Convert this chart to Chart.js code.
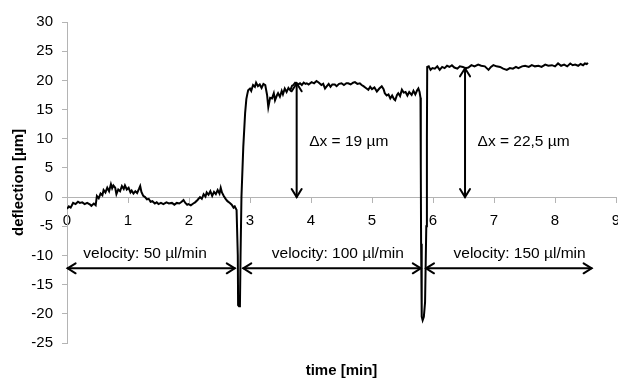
<!DOCTYPE html>
<html><head><meta charset="utf-8">
<script src="https://cdn.jsdelivr.net/npm/chart.js@4"></script>
<style>html,body{margin:0;padding:0;background:#fff}</style>
</head><body>
<canvas id="c" width="618" height="380"></canvas>
<script>
// ---- data ----
const timeMin = [
0.00,0.03,0.06,0.10,0.14,0.18,0.21,0.25,0.29,0.33,0.38,0.40,0.44,0.47,0.49,0.52,0.55,0.58,0.60,0.63,
0.66,0.69,0.72,0.74,0.76,0.79,0.81,0.84,0.87,0.90,0.93,0.95,0.98,1.01,1.04,1.06,1.09,1.12,1.15,1.18,
1.20,1.22,1.25,1.28,1.31,1.34,1.37,1.40,1.44,1.47,1.50,1.54,1.58,1.63,1.67,1.72,1.76,1.80,1.84,1.88,
1.91,1.94,1.97,1.99,2.03,2.07,2.10,2.14,2.18,2.21,2.24,2.27,2.29,2.32,2.35,2.38,2.41,2.44,2.47,2.50,
2.52,2.54,2.57,2.60,2.63,2.67,2.70,2.73,2.75,2.78,2.80,2.805,2.82,2.835,2.845,2.86,2.89,2.92,2.94,2.955,
2.97,3.00,3.02,3.05,3.08,3.10,3.13,3.16,3.19,3.22,3.25,3.28,3.30,3.33,3.36,3.39,3.41,3.44,3.46,3.49,
3.52,3.54,3.57,3.60,3.63,3.66,3.69,3.71,3.74,3.76,3.79,3.82,3.85,3.88,3.91,3.93,3.96,4.01,4.05,4.09,
4.13,4.17,4.20,4.23,4.26,4.29,4.32,4.35,4.39,4.42,4.46,4.50,4.54,4.58,4.61,4.65,4.69,4.72,4.76,4.80,
4.83,4.86,4.90,4.94,4.97,5.00,5.04,5.08,5.12,5.16,5.19,5.21,5.24,5.27,5.30,5.33,5.36,5.38,5.41,5.43,
5.46,5.49,5.52,5.55,5.58,5.61,5.65,5.68,5.71,5.74,5.76,5.78,5.795,5.80,5.805,5.815,5.83,5.85,5.87,5.89,
5.90,5.905,5.93,5.96,5.99,6.03,6.07,6.11,6.15,6.19,6.23,6.27,6.31,6.35,6.40,6.44,6.49,6.53,6.58,6.63,
6.68,6.74,6.79,6.85,6.91,6.95,6.99,7.04,7.10,7.15,7.21,7.26,7.31,7.36,7.40,7.46,7.51,7.57,7.62,7.67,
7.73,7.78,7.84,7.89,7.95,8.00,8.05,8.10,8.15,8.20,8.25,8.29,8.33,8.38,8.42,8.46,8.49,8.52,8.54
];
const deflection = [
-2.0,-1.6,-1.8,-1.0,-1.2,-0.8,-1.0,-0.9,-1.2,-1.0,-1.3,-1.5,-1.1,-1.4,0.2,-0.2,0.6,0.3,1.2,0.8,
1.6,1.0,2.2,1.5,2.0,1.6,0.5,1.3,1.0,1.9,1.4,2.0,1.3,1.6,0.8,1.1,0.6,1.0,0.7,1.4,
1.9,0.9,0.2,0.0,-0.4,-0.3,-0.8,-0.7,-1.1,-0.9,-1.2,-1.0,-1.2,-0.9,-1.1,-1.0,-1.3,-1.0,-1.1,-0.8,
-0.5,-1.0,-1.3,-1.2,-1.4,-1.1,-0.9,-0.5,0.0,-0.3,0.5,0.1,0.8,0.4,1.0,0.2,0.9,0.5,1.2,0.6,
1.6,0.8,0.2,-0.3,-0.7,-1.0,-1.3,-1.8,-1.6,-2.2,-10,-18.5,-18.7,-18.5,-10,0,8.6,14.4,16.8,17.6,
18.3,18.6,18.2,19.2,18.9,19.6,19.0,19.3,18.7,19.4,19.2,17.5,15.4,17.0,16.9,17.8,16.6,17.4,17.8,17.2,
18.2,17.6,18.6,18.0,18.7,18.3,19.1,19.2,19.6,19.5,19.3,19.5,19.2,19.6,19.4,19.5,19.3,19.7,19.5,19.9,
19.6,19.2,19.4,18.6,19.0,19.4,18.9,19.3,19.3,19.0,19.4,19.5,19.2,19.5,19.5,19.3,19.6,19.7,19.4,19.5,
19.2,19.0,18.7,18.4,18.9,18.5,18.8,18.1,18.6,19.0,18.5,17.8,17.4,17.6,16.9,17.4,16.8,16.6,17.5,17.8,
17.3,18.4,17.9,18.0,17.4,18.0,17.5,18.2,17.6,18.3,18.6,18.0,17.0,5,-8,-20.5,-21.1,-20.5,-18,-5,
10,22.3,22.4,21.8,22.1,22.0,22.4,21.8,22.3,22.1,22.5,22.3,22.6,22.2,22.0,22.4,22.3,22.1,22.2,22.6,
22.4,22.7,22.5,22.4,21.8,22.3,22.6,22.4,22.3,22.0,21.8,22.1,22.0,22.3,22.1,22.4,22.5,22.3,22.6,22.4,
22.5,22.3,22.7,22.5,22.6,22.4,22.9,22.5,22.7,22.4,22.9,22.6,22.7,22.5,22.8,22.6,22.9,22.8,23.0
];
const xMin = 0, xMax = 9, xStep = 1;
const yMin = -25, yMax = 30, yStep = 5;
const xTitle = 'time [min]';
const yTitle = 'deflection [µm]';

const velocityLabels = ['velocity: 50 µl/min', 'velocity: 100 µl/min', 'velocity: 150 µl/min'];
const velocityLabelX = [1.28, 4.44, 7.42];
const velocityLabelY = -9.65;
const velocityArrowStart = [0.01, 2.89, 5.885];
const velocityArrowEnd = [2.75, 5.80, 8.60];
const velocityArrowY = -12.2;

const deltaLabels = ['Δx = 19 µm', 'Δx = 22,5 µm'];
const deltaArrowX = [3.765, 6.525];
const deltaArrowBottom = [0, 0];
const deltaArrowTop = [19.5, 22.06];
const deltaLabelX = [3.97, 6.73];
const deltaLabelY = 9.5;

// ---- chart ----
const FONT = '"Liberation Sans", Arial, sans-serif';
const AXIS_GRAY = '#b4b4b4';

const annotations = {
  id: 'annotations',
  afterDatasetsDraw(chart) {
    const {ctx, scales: {x, y}} = chart;
    ctx.save();
    ctx.strokeStyle = '#000';
    ctx.fillStyle = '#000';
    ctx.lineWidth = 2;
    ctx.lineCap = 'round';
    ctx.lineJoin = 'miter';
    const head = (px, py, dx, dy) => {
      const L = 8, W = 5;
      ctx.beginPath();
      ctx.moveTo(px - dx * L - dy * W, py - dy * L + dx * W);
      ctx.lineTo(px, py);
      ctx.lineTo(px - dx * L + dy * W, py - dy * L - dx * W);
      ctx.stroke();
    };
    const dbl = (x1, y1, x2, y2) => {
      ctx.beginPath(); ctx.moveTo(x1, y1); ctx.lineTo(x2, y2); ctx.stroke();
      const len = Math.hypot(x2 - x1, y2 - y1);
      const dx = (x2 - x1) / len, dy = (y2 - y1) / len;
      head(x2, y2, dx, dy);
      head(x1, y1, -dx, -dy);
    };
    velocityArrowStart.forEach((s, i) => {
      const py = y.getPixelForValue(velocityArrowY);
      dbl(x.getPixelForValue(s), py, x.getPixelForValue(velocityArrowEnd[i]), py);
    });
    deltaArrowX.forEach((v, i) => {
      const px = x.getPixelForValue(v);
      dbl(px, y.getPixelForValue(deltaArrowBottom[i]), px, y.getPixelForValue(deltaArrowTop[i]));
    });
    ctx.font = '15.5px ' + FONT;
    ctx.textBaseline = 'middle';
    ctx.textAlign = 'center';
    velocityLabels.forEach((t, i) => {
      ctx.fillText(t, x.getPixelForValue(velocityLabelX[i]), y.getPixelForValue(velocityLabelY));
    });
    ctx.textAlign = 'left';
    deltaLabels.forEach((t, i) => {
      ctx.fillText(t, x.getPixelForValue(deltaLabelX[i]), y.getPixelForValue(deltaLabelY));
    });
    ctx.restore();
  }
};

new Chart(document.getElementById('c'), {
  type: 'line',
  data: {
    datasets: [{
      data: timeMin.map((t, i) => ({x: t, y: deflection[i]})),
      borderColor: '#000',
      borderWidth: 2,
      pointRadius: 0,
      tension: 0,
      xAxisID: 'x',
      yAxisID: 'y'
    }]
  },
  options: {
    responsive: false,
    devicePixelRatio: 1,
    animation: false,
    parsing: true,
    layout: {padding: {left: 10, top: 22, right: 2, bottom: 0}},
    plugins: {legend: {display: false}, tooltip: {enabled: false}},
    scales: {
      x: {
        type: 'linear', min: xMin, max: xMax, position: {y: 0},
        ticks: {stepSize: xStep, color: '#000', font: {family: FONT, size: 15}, padding: 10, maxRotation: 0, autoSkip: false},
        grid: {drawOnChartArea: false, drawTicks: true, tickLength: 5, color: AXIS_GRAY},
        border: {color: AXIS_GRAY, width: 1},
        afterFit(s) { s.paddingLeft = 0; s.paddingRight = 0; }
      },
      xtitle: {
        type: 'linear', axis: 'x', position: 'bottom',
        ticks: {display: false}, grid: {display: false}, border: {display: false},
        title: {display: true, text: xTitle, color: '#000', font: {family: FONT, size: 15, weight: 'bold'}, padding: 0},
        afterFit(s) { s.height = 37; s.paddingLeft = 0; s.paddingRight = 0; }
      },
      y: {
        type: 'linear', min: yMin, max: yMax, position: 'left',
        ticks: {stepSize: yStep, color: '#000', font: {family: FONT, size: 15}, padding: 9},
        grid: {drawOnChartArea: false, drawTicks: true, tickLength: 5, color: AXIS_GRAY},
        border: {color: AXIS_GRAY, width: 1},
        title: {display: true, text: yTitle, color: '#000', font: {family: FONT, size: 15, weight: 'bold'}, padding: 0},
        afterFit(s) { s.width = 57; }
      }
    }
  },
  plugins: [annotations]
});
</script>
</body></html>
